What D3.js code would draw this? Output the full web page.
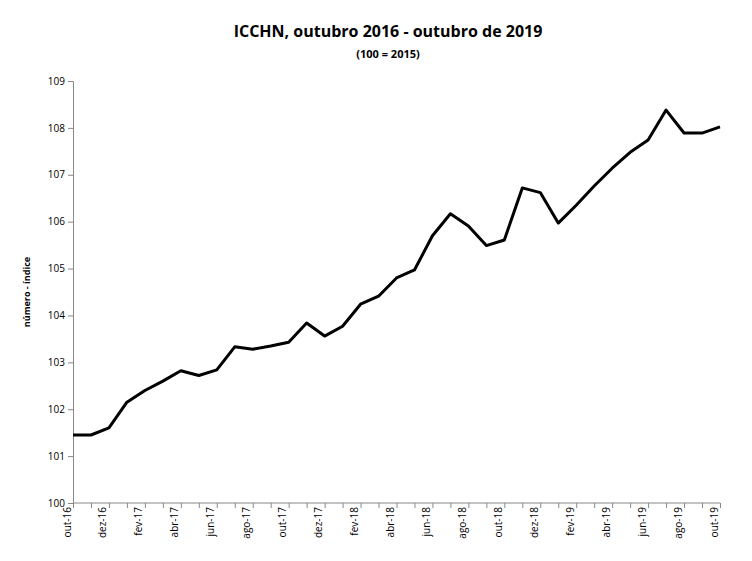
<!DOCTYPE html>
<html><head><meta charset="utf-8">
<script src="https://cdn.jsdelivr.net/npm/d3@7"></script>
<style>body{margin:0;background:#fff;font-family:"Open Sans",Arial,sans-serif}</style>
</head><body><svg id="c" width="752" height="561"></svg>
<script>
const months = ["out","nov","dez","jan","fev","mar","abr","mai","jun","jul","ago","set"];
const labels = [];
for (let i = 0; i <= 36; i++) { const m = (9 + i) % 12; const y = 16 + Math.floor((9 + i) / 12); labels.push(months[(i)%12] + "-" + y); }
const values = [101.45,101.45,101.6,102.15,102.4,102.6,102.82,102.72,102.84,103.33,103.28,103.35,103.43,103.84,103.56,103.77,104.24,104.41,104.8,104.97,105.7,106.17,105.91,105.49,105.61,106.72,106.62,105.97,106.35,106.76,107.14,107.48,107.74,108.38,107.89,107.89,108.02];
const yTicks = [100,101,102,103,104,105,106,107,108,109];

const svg = d3.select("#c");
const x = d3.scalePoint().domain(labels).range([73, 720]);
const y = d3.scaleLinear().domain([100, 109]).range([503, 81]);

svg.append("text").attr("x", 388).attr("y", 37).attr("text-anchor","middle")
  .attr("font-size", 16).attr("font-weight","bold").text("ICCHN, outubro 2016 - outubro de 2019");
svg.append("text").attr("x", 388).attr("y", 58).attr("text-anchor","middle")
  .attr("font-size", 11).attr("font-weight","bold").text("(100 = 2015)");

const ya = svg.append("g").attr("transform","translate(73,0)")
  .call(d3.axisLeft(y).tickValues(yTicks).tickSize(5).tickFormat(d3.format("d")));
ya.selectAll("text").attr("font-size", 10).attr("font-family","Open Sans, Arial");
ya.select(".domain").attr("stroke","#888");
ya.selectAll(".tick line").attr("stroke","#888");

const xa = svg.append("g").attr("transform","translate(0,503)")
  .call(d3.axisBottom(x).tickSize(5).tickFormat((d,i)=> i%2===0 ? d : ""));
xa.select(".domain").attr("stroke","#888").attr("d","M73,0H720");
xa.selectAll(".tick line").attr("stroke","#888");
xa.selectAll("text").attr("font-size",10).attr("font-family","Open Sans, Arial")
  .attr("transform","rotate(-90)").attr("text-anchor","end").attr("dx","-4").attr("dy","-0.3em").attr("x",0).attr("y",0);

svg.append("text").attr("transform","translate(30,292) rotate(-90)").attr("text-anchor","middle")
  .attr("font-size", 9).attr("font-weight","bold").text("número - índice");

svg.append("path").datum(values).attr("fill","none").attr("stroke","#000").attr("stroke-width",3)
  .attr("stroke-linejoin","round")
  .attr("d", d3.line().x((d,i)=>x(labels[i])).y(d=>y(d)));
</script></body></html>
